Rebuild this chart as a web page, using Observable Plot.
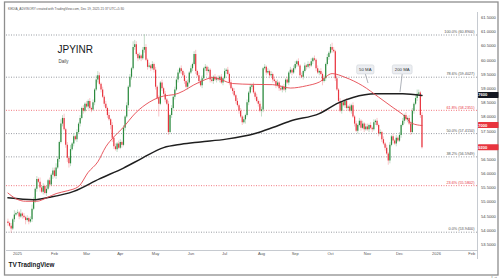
<!DOCTYPE html>
<html><head><meta charset="utf-8">
<script src="https://cdn.jsdelivr.net/npm/d3@7"></script>
<script src="https://cdn.jsdelivr.net/npm/@observablehq/plot@0.6"></script>
<style>html,body{margin:0;padding:0;background:#fff;} svg{display:block}</style>
</head><body><div id="chart"></div>
<script>
// ---------- DATA ----------
const firstOpen = 54.30;
// daily closes, per month (trading days)
const closeDec24 = [54.25,54.15,54.05,54.38,54.55,54.60];
const closeJan = [54.62,54.48,54.58,54.50,54.45,54.35,54.42,54.30,54.38,54.75,55.05,55.45,55.80,55.70,55.50,55.35,55.55,55.30,55.45,55.75,55.60,55.95,56.10];
const closeFeb = [55.90,56.20,56.50,57.10,57.75,57.95,57.55,57.00,56.55,56.35,56.85,57.05,57.30,57.20,57.45,57.75,57.95,58.30,58.20,58.45];
const closeMar = [58.35,58.55,58.30,58.25,58.50,58.95,59.30,59.45,59.15,58.95,58.70,58.45,58.30,58.05,57.90,57.70,57.25,56.95,56.85,57.05,56.90];
const closeApr = [57.10,57.00,57.60,58.00,58.40,59.05,59.40,59.70,60.45,60.55,60.20,60.05,60.15,60.05,60.35,60.45,60.00,59.75,59.80,59.70,59.85,59.65];
const closeMay = [59.05,58.65,58.45,59.20,59.00,58.80,58.60,58.45,57.45,58.05,58.30,58.70,58.95,59.30,59.55,59.70,59.60,59.45,59.25,59.05,59.20,59.55];
const closeJun = [59.70,59.85,60.20,59.60,59.45,59.25,59.10,59.35,59.70,59.75,59.60,59.65,59.30,59.25,59.40,59.30,59.35,59.30,59.40,59.20,59.35];
const closeJul = [59.60,59.65,59.50,59.20,59.00,58.90,58.75,58.55,58.40,58.20,58.00,57.80,57.90,58.05,58.50,58.85,59.05,59.10,58.85,58.70,58.55,58.45,58.20];
const closeAug = [58.25,59.70,59.75,59.55,59.60,59.45,59.50,59.30,59.25,59.10,59.20,59.00,58.95,59.05,58.95,59.30,59.20,59.55,59.65,59.55,59.70];
const closeSep = [59.85,59.95,59.80,59.45,59.40,59.60,59.80,59.75,59.85,59.80,59.95,60.05,60.00,59.70,59.55,59.60,59.50,59.25,59.35,59.85,60.10,60.25];
const closeOct = [60.45,60.35,60.30,59.35,58.95,58.55,58.20,58.50,58.40,58.55,58.30,58.35,58.20,58.40,58.00,57.75,57.50,57.70,57.85,57.60,57.75,57.55,57.65];
const closeNov = [57.55,57.70,57.60,57.55,57.80,57.85,57.70,57.40,57.45,57.20,57.05,56.90,56.70,56.45,57.00,57.30,57.15,57.05,57.25,57.15];
const closeDec = [57.35,57.70,57.85,58.05,57.90,57.95,57.75,57.45,58.20,58.45,58.65,58.80,58.85,58.05,56.92];

// upper / lower wick lengths per day, in units of 0.05
const upperWicks = ["212131","21312121232121312121212","23213231213121212121","212121332121212121212",
  "2121212143212129212121","2121212121212121212121","212312121212121212121","21212121212121212121212",
  "212121212121212121212","2121212121212121212121","23212121212121212121212","21212121212121212121","212121212123212"];
const lowerWicks = ["213121","12121312121221312121213","12121212332121212121","121212121212121332121",
  "1212121212121212121212","2191212121212121212121","121212121231212121212","12121212121213121212121",
  "421212121212121212121","1212121212121212131212","12121212121212121212121","12121212121213212121","121212121212121"];
const WICK_UNIT = 0.05;

// moving averages sampled along the curves: [trading-day index, value]
const ma50 = [[0,55.32],[5,55.12],[11,55.03],[18,55.03],[24,55.15],[30,55.30],[37,55.40],[44,55.55],[50,56.05],[56,56.42],[61,56.95],[66,57.30],[71,57.58],[80,58.17],[88,58.52],[94,58.69],[106,58.83],[119,59.22],[128,59.39],[140,59.18],[152,59.15],[165,59.14],[176,59.02],[186,59.10],[194,59.23],[202,59.53],[210,59.40],[221,59.10],[231,58.70],[240,58.33],[246,58.09],[252,57.77],[258,57.70]];
const ma200 = [[0,55.15],[16,55.08],[26,55.17],[41,55.38],[57,55.82],[72,56.20],[84,56.56],[97,56.92],[108,57.04],[120,57.12],[136,57.22],[154,57.42],[165,57.63],[176,57.86],[194,58.12],[206,58.50],[215,58.69],[229,58.82],[246,58.82],[258,58.76]];

// Fibonacci retracement
const fibPct = ["100.0%","78.6%","61.8%","50.0%","38.2%","23.6%","0.0%"];
const fibLevels = [60.8900,59.4027,58.2351,57.4150,56.5949,55.5802,53.9400];
const fibHot = [false,false,true,false,false,true,false];

// right price-axis ticks
const priceTicks = [61.5,61.0,60.5,60.0,59.5,59.0,58.5,58.0,57.5,57.0,56.5,56.0,55.5,55.0,54.5,54.0,53.5];

// texts
const headerText = "KEDIA_ADVISORY created with TradingView.com, Dec 19, 2025 21:37 UTC+5:30";
const titleText = "JPYINR";
const subtitleText = "Daily";
const callouts = [
  {label: "50 MA", at: 223, level: 59.66, tipAt: 224.7, tip: 59.18},
  {label: "200 MA", at: 246, level: 59.66, tipAt: 244.6, tip: 58.86}
];

// ---------- BUILD ----------
const closes = [].concat(closeDec24, closeJan, closeFeb, closeMar, closeApr, closeMay, closeJun, closeJul, closeAug, closeSep, closeOct, closeNov, closeDec);
const up = upperWicks.join(""), lo = lowerWicks.join("");
const tradingDays = d3.utcDay.range(new Date(Date.UTC(2024,11,24)), new Date(Date.UTC(2026,2,1))).filter(d => d.getUTCDay() % 6 !== 0);

const green = "#2b8a3e", red = "#e8353f";
const candles = closes.map((c, i) => {
  const o = i === 0 ? firstOpen : closes[i - 1];
  return {i, date: tradingDays[i], open: o, close: c,
    high: Math.max(o, c) + (+up[i] || 0) * WICK_UNIT,
    low: Math.min(o, c) - (+lo[i] || 0) * WICK_UNIT,
    color: c >= o ? green : red};
});
const fibs = fibLevels.map((v, k) => ({value: v, pct: fibPct[k], hot: fibHot[k]}));

const monthTicks = tradingDays.map((d, i) => ({d, i}))
  .filter(({d, i}) => i > 0 && d.getUTCMonth() !== tradingDays[i - 1].getUTCMonth());
const tickLabel = new Map(monthTicks.map(({d, i}) => [i, d.getUTCMonth() === 0 ? String(d.getUTCFullYear()) : d3.utcFormat("%b")(d)]));

const W = 500, H = 280, mL = 6, mR = 23, mT = 12, mB = 30;
const xDomain = [-0.9, 292.6];
const yDomain = [53.295, 61.683];
const font = "'Liberation Sans', Arial, sans-serif";

// price boxes on the right axis
const boxes = [
  {value: ma200[ma200.length - 1][1], bg: "#131722"},
  {value: ma50[ma50.length - 1][1], bg: red},
  {value: closes[closes.length - 1], bg: red}
];
// hide axis labels that the price boxes cover (as TradingView does)
const pxPerUnit = (H - mT - mB) / (yDomain[1] - yDomain[0]);
const shownTicks = priceTicks.filter(t => boxes.every(b => Math.abs(t - b.value) * pxPerUnit > 5.5));

const chart = Plot.plot({
  width: W, height: H, marginLeft: mL, marginRight: mR, marginTop: mT, marginBottom: mB,
  style: {fontFamily: font, background: "#fff", overflow: "visible"},
  x: {type: "linear", domain: xDomain, axis: null},
  y: {domain: yDomain, axis: null},
  marks: [
    Plot.ruleY(fibs, {y: "value", stroke: d => d.hot ? "#f06a72" : "#8d9199", strokeDasharray: "1,1.5", strokeWidth: 0.9}),
    Plot.text(fibs, {y: "value", frameAnchor: "right", textAnchor: "end", dx: -3, dy: -3, fontSize: 3.8,
      text: d => `${d.pct} (${d.value.toFixed(4)})`, fill: d => d.hot ? red : "#555"}),
    Plot.ruleX(candles, {x: "i", y1: "low", y2: "high", stroke: "color", strokeOpacity: 0.4, strokeWidth: 0.7}),
    Plot.ruleX(candles, {x: "i", y1: "open", y2: "close", stroke: "color", strokeWidth: 1.2}),
    Plot.line(ma200, {x: d => d[0], y: d => d[1], stroke: "#1f1f1f", strokeWidth: 1.5, curve: "monotone-x"}),
    Plot.line(ma50, {x: d => d[0], y: d => d[1], stroke: "#e5474f", strokeWidth: 0.9, curve: "monotone-x"}),
    Plot.axisY({anchor: "right", ticks: shownTicks, tickFormat: d => d.toFixed(4), tickSize: 0, tickPadding: 3.5, fontSize: 4.1, color: "#444"}),
    Plot.axisX({ticks: monthTicks.map(t => t.i).filter(i => i >= xDomain[0] && i <= xDomain[1]), tickFormat: i => tickLabel.get(i), tickSize: 0, tickPadding: 2, fontSize: 4, color: "#555"}),
    Plot.text([headerText], {frameAnchor: "top-left", dx: 1.5, dy: -4.5, fontSize: 3.2, fill: "#555", textAnchor: "start"}),
    Plot.text([titleText], {frameAnchor: "top-left", dx: 51, dy: 33.5, fontSize: 10, fill: "#131722", textAnchor: "start"}),
    Plot.text([subtitleText], {frameAnchor: "top-left", dx: 52, dy: 47, fontSize: 4.5, fill: "#444", textAnchor: "start"}),
    Plot.text(["TV"], {frameAnchor: "bottom-left", dx: 2, dy: 16.5, fontSize: 6.5, fontWeight: 900, fill: "#131722", textAnchor: "start"}),
    Plot.text(["TradingView"], {frameAnchor: "bottom-left", dx: 11, dy: 16.5, fontSize: 6.3, fontWeight: 700, fill: "#131722", textAnchor: "start"})
  ]
});

// chrome + labels drawn with the chart's own scales
const xs = chart.scale("x"), ys = chart.scale("y");
const X = v => xs.apply(v), Y = v => ys.apply(v);
const svg = d3.select(chart);
const g = svg.append("g");
const right = W - mR, bottom = H - mB;
g.append("line").attr("x1", mL).attr("x2", right + 0.5).attr("y1", bottom + 0.5).attr("y2", bottom + 0.5).attr("stroke", "#b8bcc4").attr("stroke-width", 0.8);
g.append("line").attr("x1", right + 0.5).attr("x2", right + 0.5).attr("y1", mT).attr("y2", bottom + 9).attr("stroke", "#b8bcc4").attr("stroke-width", 0.8);
g.append("rect").attr("x", 4.5).attr("y", 2).attr("width", 493.5).attr("height", 273).attr("fill", "none").attr("stroke", "#8e8e8e").attr("stroke-width", 1.3);

// callouts
for (const c of callouts) {
  const cx = X(c.at), cy = Y(c.level);
  const w = c.label.length * 2.45 + 5, h = 9;
  g.append("line").attr("x1", cx).attr("y1", cy + h / 2).attr("x2", X(c.tipAt)).attr("y2", Y(c.tip)).attr("stroke", "#9aa0a8").attr("stroke-width", 0.8);
  g.append("rect").attr("x", cx - w / 2).attr("y", cy - h / 2).attr("width", w).attr("height", h).attr("rx", 1.5)
    .attr("fill", "#eceef2").attr("stroke", "#cfd3d9").attr("stroke-width", 0.6);
  g.append("text").attr("x", cx).attr("y", cy).attr("text-anchor", "middle").attr("dominant-baseline", "central")
    .attr("font-size", 4.3).attr("font-family", font).attr("fill", "#333").text(c.label);
}

for (const b of boxes) {
  const cy = Y(b.value);
  g.append("rect").attr("x", right + 1).attr("y", cy - 3).attr("width", 20.5).attr("height", 6).attr("fill", b.bg).attr("rx", 0.6);
  g.append("text").attr("x", right + 3).attr("y", cy).attr("dominant-baseline", "central").attr("font-size", 4.1)
    .attr("font-family", font).attr("font-weight", 700).attr("fill", "#fff").text(b.value.toFixed(4));
}

document.getElementById("chart").append(chart);
</script></body></html>
